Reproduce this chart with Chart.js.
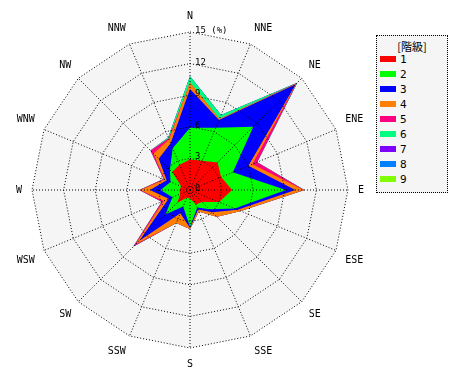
<!DOCTYPE html>
<html><head><meta charset="utf-8">
<script src="https://cdn.jsdelivr.net/npm/chart.js@4.4.1/dist/chart.umd.min.js"></script>
<style>
html,body{margin:0;padding:0;background:#fff;}
#wrap{position:relative;width:470px;height:380px;}
#legend{position:absolute;left:376px;top:35px;width:72px;height:158px;border:1px dotted #000;background:#f5f5f5;box-sizing:border-box;}
#legend .title{position:absolute;left:0;width:100%;top:2px;height:12px;line-height:12px;text-align:center;font:11px "Noto Sans CJK JP";color:#000;}
#legend .row{position:absolute;left:0;width:100%;height:12px;}
#legend .sw{position:absolute;left:3px;top:3px;width:16px;height:6px;}
#legend .lb{position:absolute;left:23px;top:0;line-height:12px;font:11px "DejaVu Sans Mono";color:#000;}
</style></head>
<body><div id="wrap"><canvas id="c" width="470" height="380"></canvas><div id="legend"></div></div>
<script>
const directions = ['N','NNE','NE','ENE','E','ESE','SE','SSE','S','SSW','SW','WSW','W','WNW','NW','NNW'];
const classLabels = ['1','2','3','4','5','6','7','8','9'];
const classColors = ['#ff0000','#00ff00','#0000ff','#ff8000','#ff0080','#00ff80','#8000ff','#0080ff','#80ff00'];
// frequency (%) of each class per direction
const class1 = [2.9,3.0,3.7,3.2,4.0,3.0,1.6,1.5,0.8,0.8,1.7,1.0,1.0,0.9,2.4,2.6];
const class2 = [3.0,3.4,4.8,1.2,5.1,1.6,1.0,0.3,2.7,0.9,1.6,0.8,1.8,1.1,0.3,1.7];
const class3 = [3.7,0.8,5.7,1.6,0.9,0.3,0.4,0.2,0.1,0.7,3.5,0.4,1.0,0.4,1.5,0.5];
const class4 = [0.6,0.1,0.1,0.4,0.8,0.3,0.6,0.2,0.1,1.0,0.5,0.5,0.9,0.2,0.7,0.4];
const class5 = [0.0,0.0,0.05,0.5,0.05,0.0,0.0,0.0,0.0,0.0,0.3,0.2,0.1,0.1,0.4,0.1];
const class6 = [0.6,0.4,0.05,0.0,0.0,0.0,0.0,0.0,0.0,0.0,0.0,0.0,0.0,0.0,0.0,0.1];
const class7 = [0,0,0,0,0,0,0,0,0,0,0,0,0,0,0,0];
const class8 = [0,0,0,0,0,0,0,0,0,0,0,0,0,0,0,0];
const class9 = [0,0,0,0,0,0,0,0,0,0,0,0,0,0,0,0];
const tickValues = [0,3,6,9,12,15];
const tickLabels = ['0','3','6','9','12','15 (%)'];

const classes = [class1,class2,class3,class4,class5,class6,class7,class8,class9];
const running = directions.map(()=>0);
const datasets = classes.map((arr,k)=>{
  const cum = arr.map((v,i)=>{running[i]+=v;return +running[i].toFixed(3);});
  return {label:classLabels[k],data:cum,backgroundColor:classColors[k],borderColor:classColors[k],borderWidth:0,pointRadius:0,pointHoverRadius:0,fill:'origin',tension:0};
});

const bgPoly = {id:'bgPoly',beforeDatasetsDraw(chart){
  const s=chart.scales.r,ctx=chart.ctx;ctx.save();ctx.beginPath();
  for(let i=0;i<directions.length;i++){const p=s.getPointPositionForValue(i,s.max);if(i)ctx.lineTo(p.x,p.y);else ctx.moveTo(p.x,p.y);}
  ctx.closePath();ctx.fillStyle='#f5f5f5';ctx.fill();ctx.restore();
}};
const tickText = {id:'tickText',afterDraw(chart){
  const s=chart.scales.r,ctx=chart.ctx;ctx.save();
  ctx.font='9px "DejaVu Sans Mono"';ctx.fillStyle='#000';ctx.textAlign='left';ctx.textBaseline='alphabetic';
  tickValues.forEach((v,i)=>{const d=s.getDistanceFromCenterForValue(v);ctx.fillText(tickLabels[i],s.xCenter+5,s.yCenter-d+1);});
  ctx.restore();
}};

new Chart(document.getElementById('c'),{
  type:'radar',
  data:{labels:directions,datasets:datasets},
  options:{
    responsive:false,animation:false,devicePixelRatio:1,
    layout:{padding:{left:12,top:10,bottom:10,right:102}},
    plugins:{legend:{display:false},tooltip:{enabled:false}},
    elements:{line:{borderWidth:0}},
    scales:{r:{
      z:1,min:0,max:15,
      ticks:{display:false,stepSize:3},
      grid:{color:'#000',lineWidth:1,z:1},
      border:{dash:[1,2]},
      angleLines:{color:'#000',lineWidth:1,borderDash:[1,2]},
      pointLabels:{color:'#000',padding:10,font:{family:'DejaVu Sans Mono',size:10}}
    }}
  },
  plugins:[bgPoly,tickText]
});

const lg=document.getElementById('legend');
const t=document.createElement('div');t.className='title';t.textContent='[階級]';lg.appendChild(t);
classLabels.forEach((l,i)=>{
  const r=document.createElement('div');r.className='row';r.style.top=(17+i*15)+'px';
  const sw=document.createElement('div');sw.className='sw';sw.style.background=classColors[i];
  const lb=document.createElement('div');lb.className='lb';lb.textContent=l;
  r.appendChild(sw);r.appendChild(lb);lg.appendChild(r);
});
</script></body></html>
